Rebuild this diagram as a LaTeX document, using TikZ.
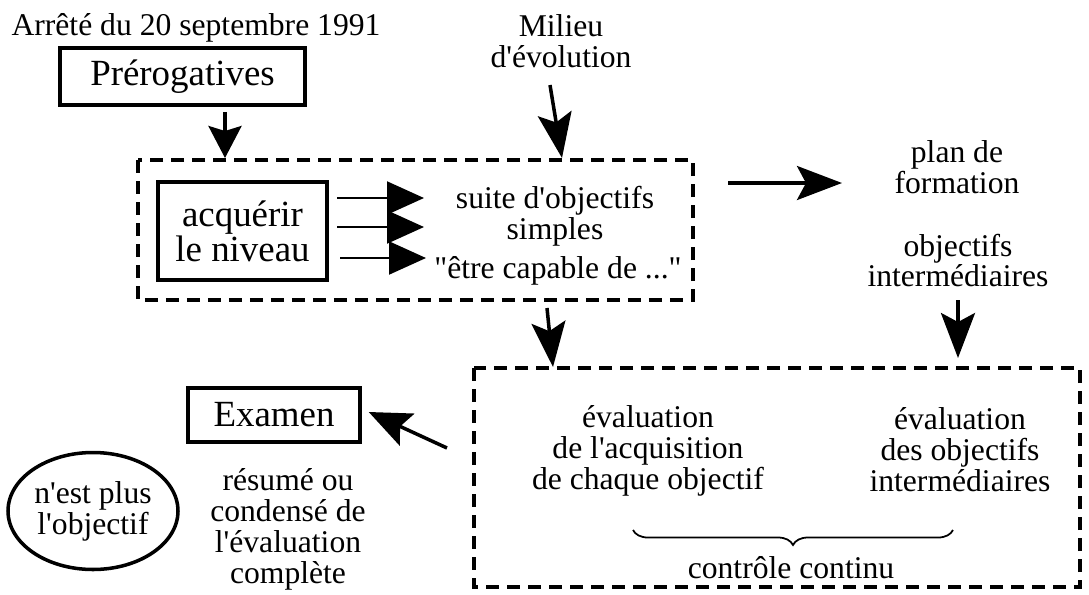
\documentclass[tikz,border=0pt]{standalone}
\usepackage{fontspec}
\setmainfont{Liberation Serif}[Ligatures=TeXOff]
\usetikzlibrary{arrows.meta,shapes.geometric,decorations.pathreplacing}

\tikzset{
  txt/.style={align=center,font=\fontsize{18}{17.6}\selectfont,inner sep=0pt},
  boxed/.style={draw,line width=2pt,align=center,font=\fontsize{21}{20}\selectfont},
  dashbox/.style={draw,line width=2pt,dash pattern=on 0.26cm off 0.16cm},
  bigarrow/.style={line width=2pt,-{Stealth[length=0.9cm,width=0.68cm,inset=0.18cm]}},
  thinarrow/.style={line width=1.2pt,-{Triangle[length=0.74cm,width=0.66cm]}}
}

\begin{document}
\begin{tikzpicture}
  \useasboundingbox (0,0) rectangle (21.78,-11.88);
  % header
  \node[txt,anchor=base] (arrete) at (3.92,-0.7) {Arrêté du 20 septembre 1991};
  \node[boxed,minimum width=4.9cm,minimum height=1.14cm] (prerog) at (3.65,-1.53) {Prérogatives};
  \node[txt] (milieu) at (11.22,-0.82) {Milieu\\d'évolution};

  % first dashed frame
  \draw[dashbox] (2.76,-3.2) rectangle (13.86,-6.0);
  \coordinate (f1top) at (4.5,-3.16);
  \coordinate (f1mid) at (11.24,-3.16);
  \node[boxed,minimum width=3.38cm,minimum height=1.96cm] (acq) at (4.85,-4.62) {acquérir\\le niveau};
  \node[txt] (suite) at (11.1,-4.32) {suite d'objectifs\\simples};
  \node[txt] (capable) at (11.16,-5.41) {"être capable de ..."};
  \coordinate (a1) at (6.74,-3.96);  \coordinate (b1) at (8.48,-3.96);
  \coordinate (a2) at (6.74,-4.54);  \coordinate (b2) at (8.48,-4.54);
  \coordinate (a3) at (6.8,-5.16);   \coordinate (b3) at (8.52,-5.16);
  \draw[thinarrow] (a1) -- (b1);
  \draw[thinarrow] (a2) -- (b2);
  \draw[thinarrow] (a3) -- (b3);

  \draw[line width=2pt,-{Stealth[length=0.64cm,width=0.66cm,inset=0.1cm]}] ([yshift=-0.1cm]prerog.south -| f1top) -- (f1top);
  \draw[bigarrow] (11.0,-1.7) -- (f1mid);

  % right side
  \coordinate (r0) at (14.56,-3.66);
  \draw[bigarrow] (r0) -- (16.84,-3.66);
  \node[txt] (plan) at (19.14,-3.34) {plan de\\formation};
  \node[txt] (interm) at (19.16,-5.21) {objectifs\\intermédiaires};

  % second dashed frame
  \draw[dashbox] (9.48,-7.36) rectangle (21.6,-11.74);
  \coordinate (f2top) at (11.06,-7.34);
  \coordinate (f2right) at (19.16,-7.16);
  \draw[bigarrow] (10.94,-6.16) -- (f2top);
  \draw[bigarrow] (19.16,-6.0) -- (f2right);
  \node[txt] (evalA) at (12.96,-9.02) {évaluation\\de l'acquisition\\de chaque objectif};
  \node[txt] (evalB) at (19.2,-9.0) {évaluation\\des objectifs\\intermédiaires};
  \draw[line width=1pt,decorate,decoration={brace,mirror,amplitude=0.3cm}] (12.66,-10.6) -- (19.06,-10.6);
  \node[txt,anchor=base] (continu) at (15.82,-11.56) {contrôle continu};

  % exam
  \node[boxed,minimum width=3.44cm,minimum height=1.08cm] (exam) at (5.48,-8.3) {Examen};
  \coordinate (examtail) at (8.94,-8.96);
  \draw[line width=2pt,-{Stealth[length=0.84cm,width=0.7cm,inset=0.15cm]}] (examtail) -- ([xshift=0.14cm,yshift=0.06cm]exam.east);
  \node[txt] (resume) at (5.76,-10.58) {résumé ou\\condensé de\\l'évaluation\\complète};
  \node[draw,ellipse,line width=2pt,minimum width=3.4cm,minimum height=2.34cm,txt] (plus) at (1.86,-10.22) {n'est plus\\l'objectif};
\end{tikzpicture}
\end{document}
